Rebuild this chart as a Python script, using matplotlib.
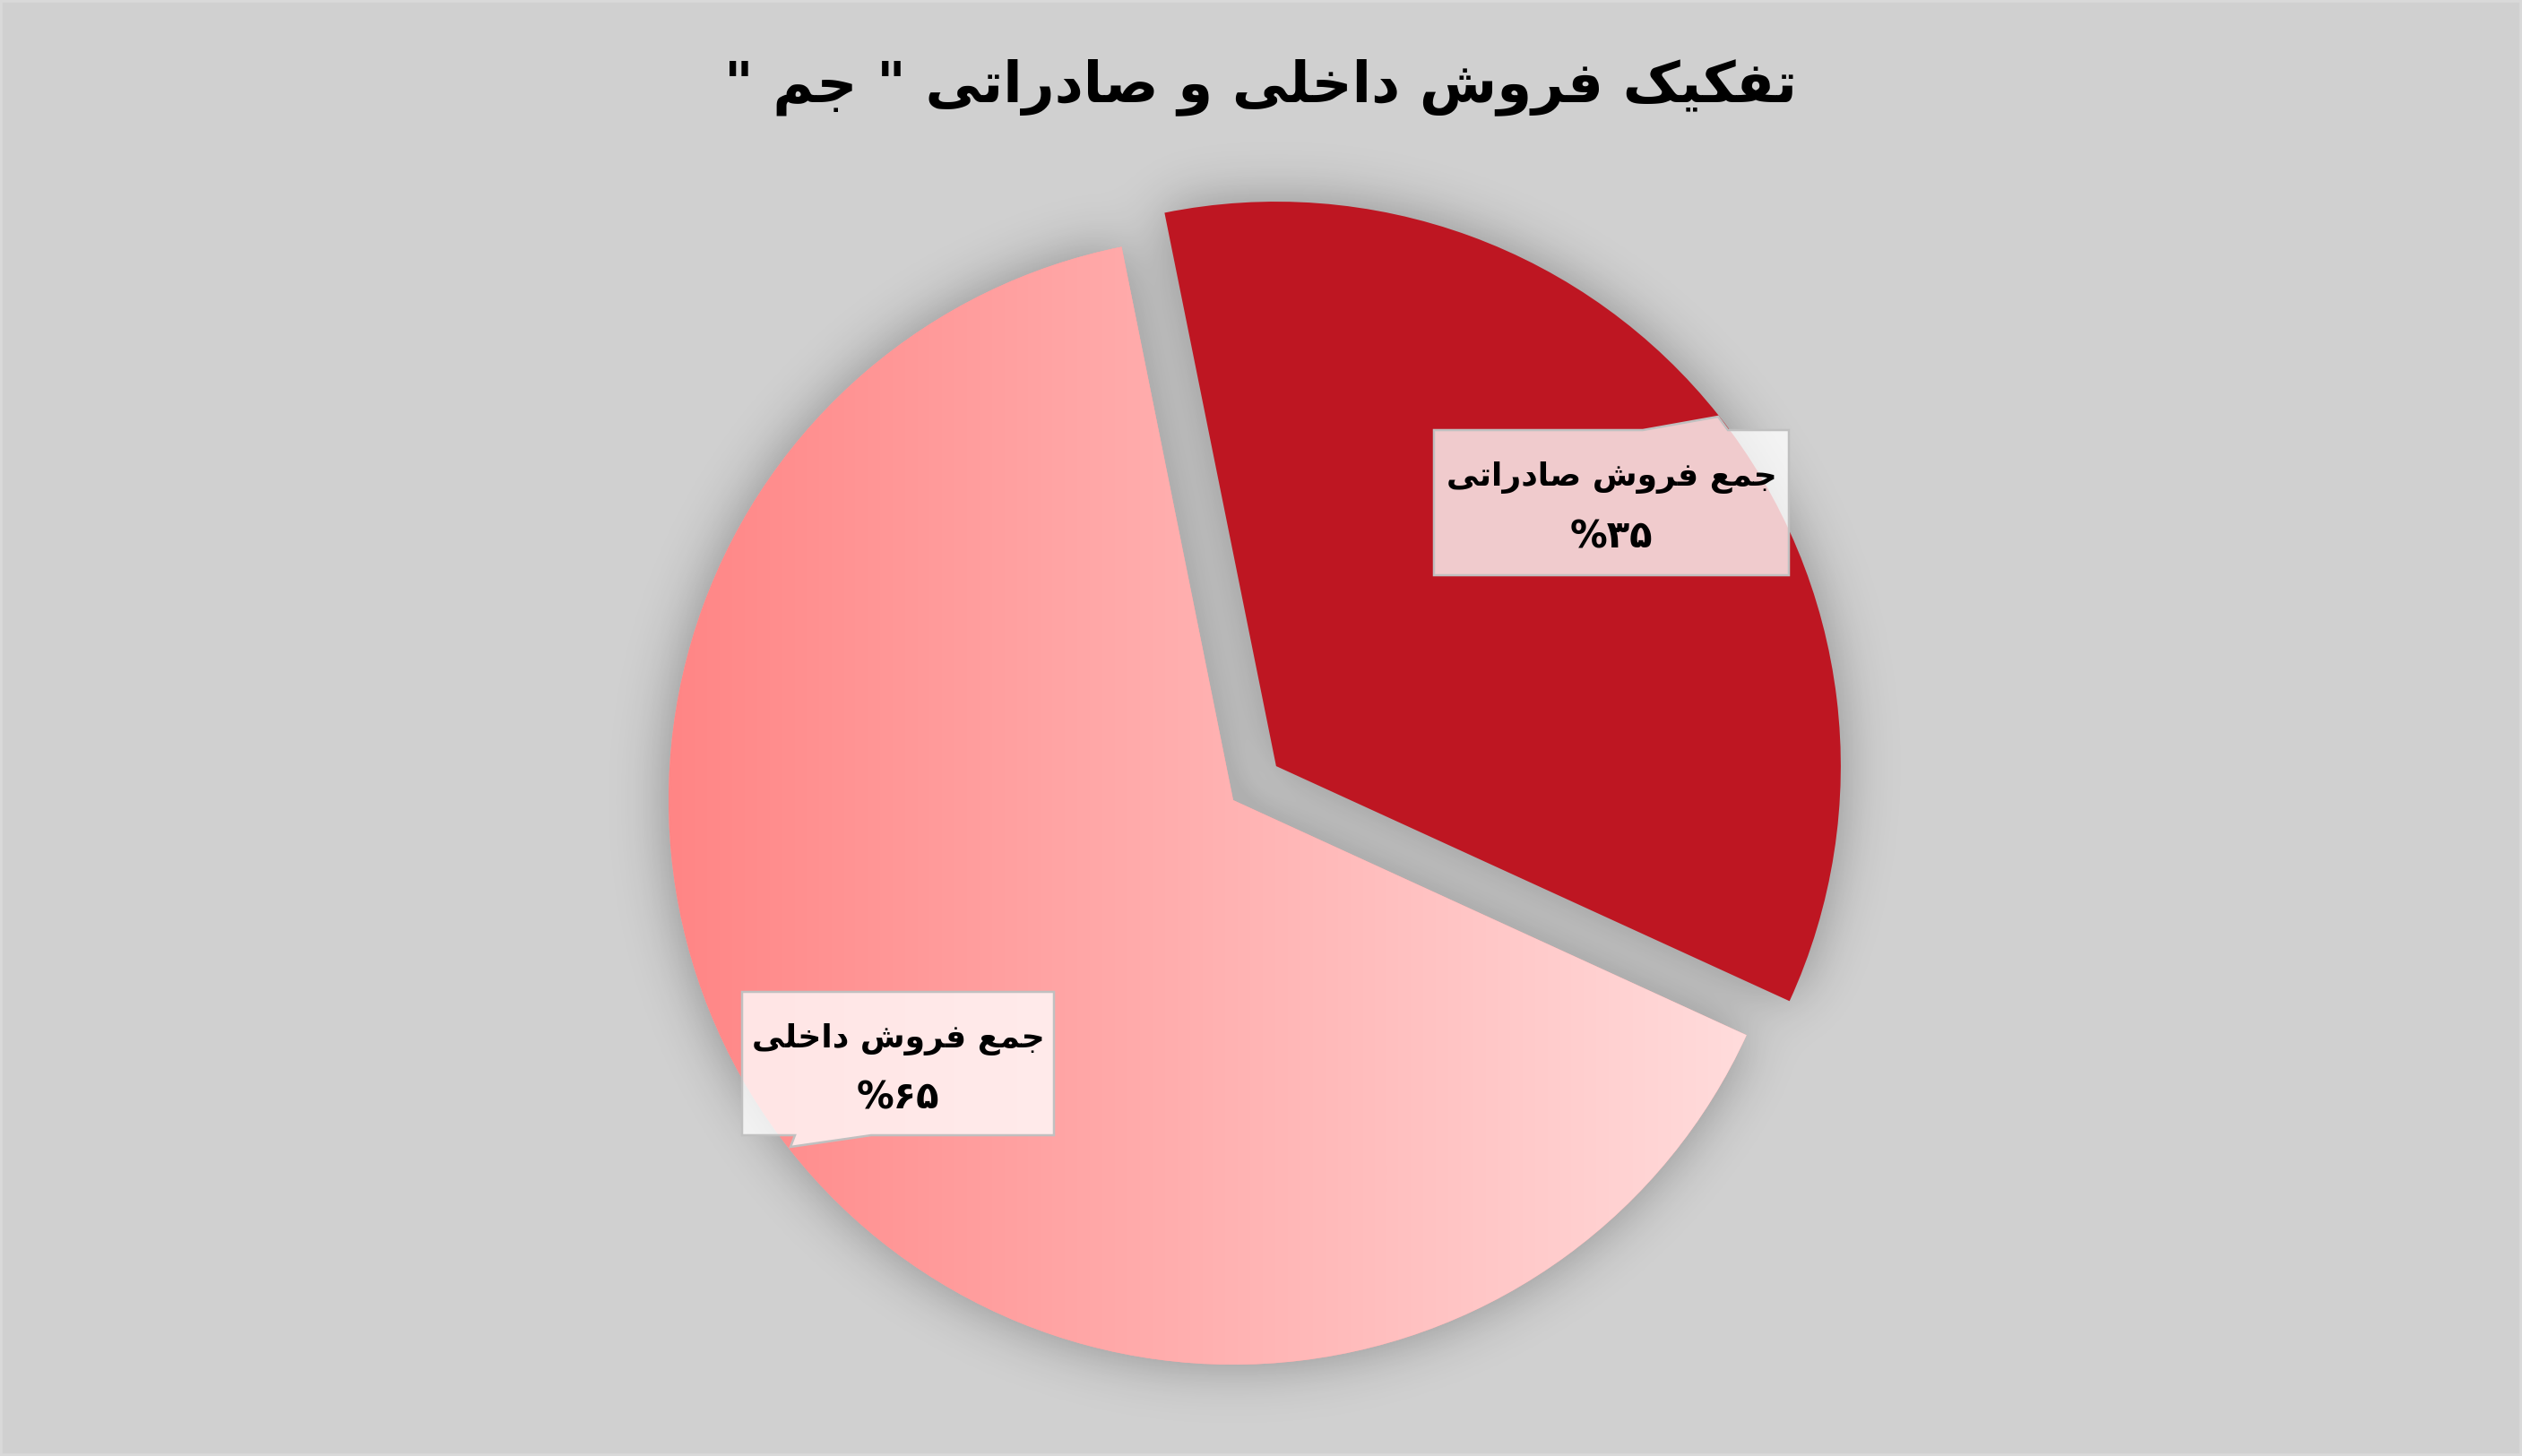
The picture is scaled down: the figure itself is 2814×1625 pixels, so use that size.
import numpy as np
import matplotlib
matplotlib.use('Agg')
import matplotlib.pyplot as plt
from matplotlib.patches import Polygon, Rectangle
from matplotlib.colors import LinearSegmentedColormap

# ---------------- data ----------------
title_text = 'تفکیک فروش داخلی و صادراتی " جم "'
categories = ['جمع فروش صادراتی', 'جمع فروش داخلی']
shares = [35, 65]
slice_colors = ['#be1622', '#ffa4a4']

# ---------------- simple Arabic/Persian shaping ----------------
FORMS = {
    'ا': ('\uFE8D', '\uFE8E', None, None),
    'ت': ('\uFE95', '\uFE96', '\uFE97', '\uFE98'),
    'ج': ('\uFE9D', '\uFE9E', '\uFE9F', '\uFEA0'),
    'خ': ('\uFEA5', '\uFEA6', '\uFEA7', '\uFEA8'),
    'د': ('\uFEA9', '\uFEAA', None, None),
    'ر': ('\uFEAD', '\uFEAE', None, None),
    'ش': ('\uFEB5', '\uFEB6', '\uFEB7', '\uFEB8'),
    'ص': ('\uFEB9', '\uFEBA', '\uFEBB', '\uFEBC'),
    'ع': ('\uFEC9', '\uFECA', '\uFECB', '\uFECC'),
    'ف': ('\uFED1', '\uFED2', '\uFED3', '\uFED4'),
    'ل': ('\uFEDD', '\uFEDE', '\uFEDF', '\uFEE0'),
    'م': ('\uFEE1', '\uFEE2', '\uFEE3', '\uFEE4'),
    'و': ('\uFEED', '\uFEEE', None, None),
    'ک': ('\uFB8E', '\uFB8F', '\uFB90', '\uFB91'),
    'ی': ('\uFBFC', '\uFBFD', '\uFBFE', '\uFBFF'),
}


def shape(text):
    out = []
    n = len(text)
    for i, ch in enumerate(text):
        if ch not in FORMS:
            out.append(ch)
            continue
        prev = text[i - 1] if i > 0 else ''
        nxt = text[i + 1] if i < n - 1 else ''
        join_prev = prev in FORMS and FORMS[prev][2] is not None
        join_next = FORMS[ch][2] is not None and nxt in FORMS
        iso, fin, ini, med = FORMS[ch]
        if join_prev and join_next:
            out.append(med)
        elif join_prev:
            out.append(fin)
        elif join_next:
            out.append(ini)
        else:
            out.append(iso)
    return ''.join(reversed(out))


def fa_digits(n):
    return str(n).translate(str.maketrans('0123456789', '۰۱۲۳۴۵۶۷۸۹'))


# ---------------- layout ----------------
W, H = 2814, 1625
CX, CY, R = 1376, 893, 630
BG = '#d0d0d0'


def P(x, y):
    return ((x - CX) / R, (CY - y) / R)


fig = plt.figure(figsize=(W / 100, H / 100), dpi=100, facecolor=BG)
ax = fig.add_axes([0, 0, 1, 1])
ax.set_facecolor(BG)

wedges, _ = ax.pie(shares, explode=[0.097, 0], startangle=101.4, counterclock=False,
                   colors=slice_colors, radius=1, center=(0, 0),
                   wedgeprops=dict(linewidth=0))

xmin, xmax = -CX / R, (W - CX) / R
ymin, ymax = -(H - CY) / R, CY / R

# gradient on the large slice (left to right across its bounding box)
cmap = LinearSegmentedColormap.from_list('g', ['#ff8585', '#ffdcdc'])
grad = np.linspace(0, 1, 512)[None, :]
bb = wedges[1].get_path().get_extents(wedges[1].get_patch_transform())
im = ax.imshow(grad, cmap=cmap, extent=(bb.x0, bb.x1, bb.y0, bb.y1), aspect='auto',
               zorder=1.5, interpolation='bilinear')
im.set_clip_path(wedges[1])

# soft shadow under the pie
ds = 2
gx = (np.arange(0, W, ds) + ds / 2 - CX) / R
gy = (CY - (np.arange(0, H, ds) + ds / 2)) / R
X, Y = np.meshgrid(gx, gy)
mask = np.zeros_like(X)
for w in wedges:
    cx, cy = w.center
    dx, dy = X - cx, Y - cy
    rr = np.hypot(dx, dy)
    ang = np.degrees(np.arctan2(dy, dx))
    t1, t2 = min(w.theta1, w.theta2), max(w.theta1, w.theta2)
    rel = (ang - t1) % 360
    mask[(rr <= w.r) & (rel <= (t2 - t1))] = 1.0
sigma = 30 / ds
fy = np.fft.fftfreq(mask.shape[0])
fx = np.fft.rfftfreq(mask.shape[1])
G = np.exp(-2 * np.pi ** 2 * sigma ** 2 * (fy[:, None] ** 2 + fx[None, :] ** 2))
blur = np.fft.irfft2(np.fft.rfft2(mask) * G, s=mask.shape)
dark = np.clip(2 * blur, 0, 1) * 0.16
rgba = np.zeros(mask.shape + (4,))
rgba[..., 3] = dark
ax.imshow(rgba, extent=(xmin, xmax, ymin, ymax), origin='upper', zorder=0.5,
          interpolation='bilinear', aspect='auto')

ax.set_xlim(xmin, xmax)
ax.set_ylim(ymin, ymax)
ax.set_aspect('auto')
ax.axis('off')

# ---------------- label callouts ----------------
total = sum(shares)
pcts = [round(v * 100 / total) for v in shares]

box_specs = [
    # dark slice label: box + pointer on top edge
    dict(poly=[(1600, 480), (1833, 480), (1917, 465), (1928, 480), (1996, 480),
               (1996, 642), (1600, 642)],
         cx=1798, y1=533, y2=599),
    # light slice label: box + pointer on bottom edge
    dict(poly=[(828, 1107), (1176, 1107), (1176, 1267), (972, 1267), (882, 1280),
               (887, 1267), (828, 1267)],
         cx=1002, y1=1160, y2=1226),
]
for spec, cat, pc in zip(box_specs, categories, pcts):
    pts = [P(x, y) for x, y in spec['poly']]
    ax.add_patch(Polygon(pts, closed=True, facecolor=(1, 1, 1, 0.78),
                         edgecolor='#c0c0c0', linewidth=1.8, zorder=3))
    ax.text(*P(spec['cx'], spec['y1']), shape(cat), ha='center', va='center',
            fontsize=26, fontweight='bold', family=['DejaVu Sans'], color='black', zorder=4)
    ax.text(*P(spec['cx'], spec['y2']), '%' + fa_digits(pc), ha='center', va='center',
            fontsize=30, fontweight='bold', family=['DejaVu Sans'], color='black', zorder=4)

# title
fig.text(0.5, 1 - 97 / H, shape(title_text), ha='center', va='center', fontsize=45,
         fontweight='bold', family=['DejaVu Sans'], color='black')

# outer border
fig.patches.append(Rectangle((0, 0), 1, 1, transform=fig.transFigure, fill=False,
                             edgecolor='#d9d9d9', linewidth=4, zorder=10))

fig.savefig('out.png', dpi=100, facecolor=BG)
